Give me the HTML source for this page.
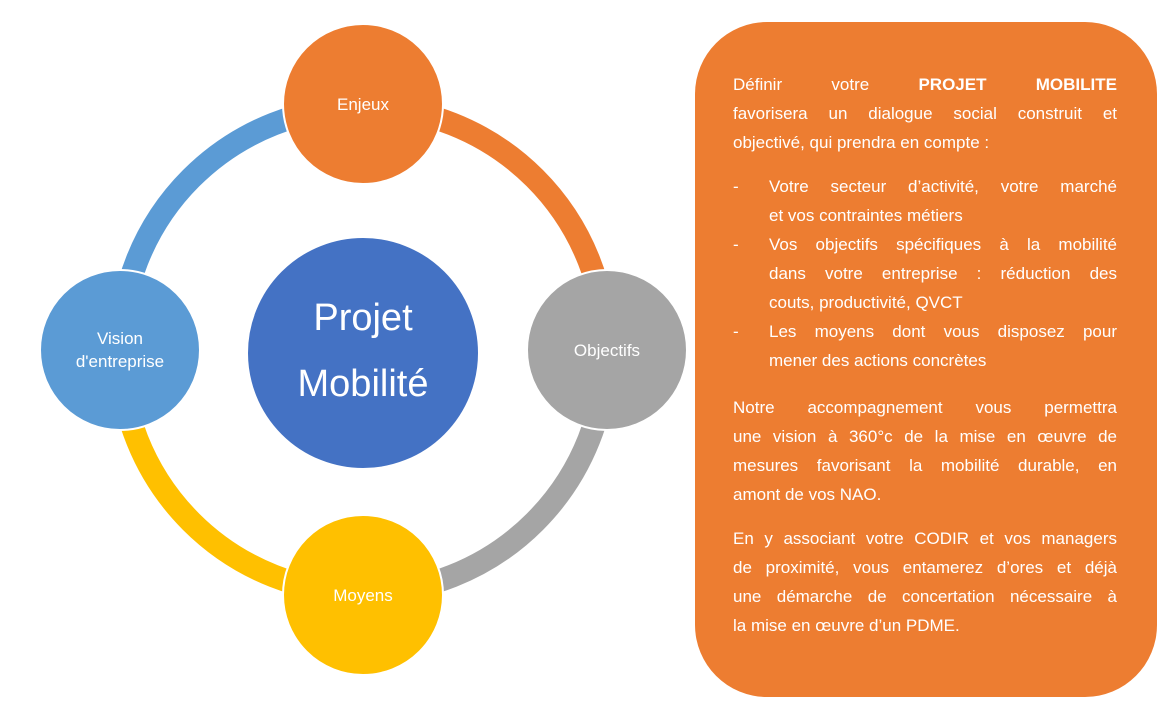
<!DOCTYPE html>
<html><head><meta charset="utf-8"><style>
body{margin:0;width:1169px;height:714px;background:#fff;position:relative;overflow:hidden;font-family:"Liberation Sans",sans-serif}
.box{position:absolute;left:695px;top:22px;width:462px;height:675px;background:#ed7d31;border-radius:72px}
.l{position:absolute;left:733px;width:384px;height:29px;line-height:29px;color:#fff;font-size:17px;white-space:nowrap}
.j{text-align:justify;text-align-last:justify}
.b{left:769px;width:348px}
.d{position:absolute;left:733px;color:#fff;font-size:17px;line-height:29px}
</style></head><body>
<svg width="1169" height="714" style="position:absolute;left:0;top:0">
<g fill="none" stroke-width="23">
<path d="M120 350 A243 243 0 0 1 363 107" stroke="#5b9bd5"/>
<path d="M363 107 A243 243 0 0 1 606 350" stroke="#ed7d31"/>
<path d="M606 350 A243 243 0 0 1 363 593" stroke="#a5a5a5"/>
<path d="M363 593 A243 243 0 0 1 120 350" stroke="#ffc000"/>
</g>
<g stroke="#fff" stroke-width="2">
<circle cx="363" cy="104" r="80" fill="#ed7d31"/>
<circle cx="607" cy="350" r="80" fill="#a5a5a5"/>
<circle cx="363" cy="595" r="80" fill="#ffc000"/>
<circle cx="120" cy="350" r="80" fill="#5b9bd5"/>
<circle cx="363" cy="353" r="116" fill="#4472c4"/>
</g>
<g fill="#fff" font-family="Liberation Sans, sans-serif" text-anchor="middle" font-size="17">
<text x="363" y="110">Enjeux</text>
<text x="607" y="356">Objectifs</text>
<text x="363" y="601">Moyens</text>
<text x="120" y="344">Vision</text>
<text x="120" y="367">d'entreprise</text>
<text x="363" y="330" font-size="38">Projet</text>
<text x="363" y="396" font-size="38">Mobilité</text>
</g>
</svg>
<div class="box"></div>
<div class="l j" style="top:70px">Définir votre <b>PROJET MOBILITE</b></div>
<div class="l j" style="top:99px">favorisera un dialogue social construit et</div>
<div class="l" style="top:128px">objectivé, qui prendra en compte :</div>
<div class="d" style="top:172px">-</div><div class="l j b" style="top:172px">Votre secteur d’activité, votre marché</div>
<div class="l b" style="top:201px">et vos contraintes métiers</div>
<div class="d" style="top:230px">-</div><div class="l j b" style="top:230px">Vos objectifs spécifiques à la mobilité</div>
<div class="l j b" style="top:259px">dans votre entreprise : réduction des</div>
<div class="l b" style="top:288px">couts, productivité, QVCT</div>
<div class="d" style="top:317px">-</div><div class="l j b" style="top:317px">Les moyens dont vous disposez pour</div>
<div class="l b" style="top:346px">mener des actions concrètes</div>
<div class="l j" style="top:393px">Notre accompagnement vous permettra</div>
<div class="l j" style="top:422px">une vision à 360°c de la mise en œuvre de</div>
<div class="l j" style="top:451px">mesures favorisant la mobilité durable, en</div>
<div class="l" style="top:480px">amont de vos NAO.</div>
<div class="l j" style="top:524px">En y associant votre CODIR et vos managers</div>
<div class="l j" style="top:553px">de proximité, vous entamerez d’ores et déjà</div>
<div class="l j" style="top:582px">une démarche de concertation nécessaire à</div>
<div class="l" style="top:611px">la mise en œuvre d’un PDME.</div>
</body></html>
